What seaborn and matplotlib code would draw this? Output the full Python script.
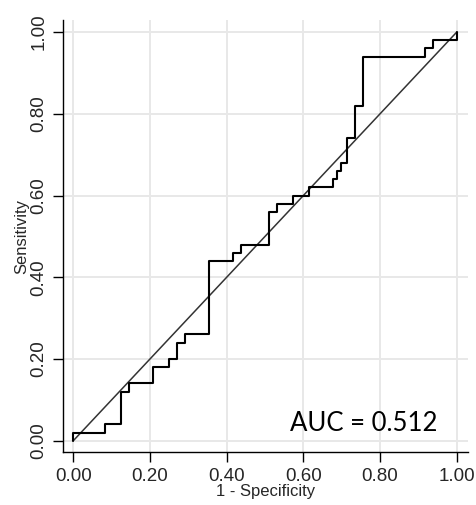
import matplotlib
matplotlib.use("Agg")
import matplotlib.pyplot as plt
import seaborn as sns
import pandas as pd
from matplotlib.ticker import FormatStrFormatter

# ROC curve vertices (1 - Specificity, Sensitivity)
fpr = [0.0, 0.0, 0.083, 0.083, 0.125, 0.125, 0.146, 0.146, 0.208, 0.208,
       0.25, 0.25, 0.271, 0.271, 0.292, 0.292, 0.354, 0.354, 0.417, 0.417,
       0.4375, 0.4375, 0.51, 0.51, 0.531, 0.531, 0.573, 0.573, 0.615, 0.615,
       0.677, 0.677, 0.688, 0.688, 0.698, 0.698, 0.714, 0.714, 0.734, 0.734,
       0.755, 0.755, 0.917, 0.917, 0.938, 0.938, 1.0, 1.0]
tpr = [0.0, 0.02, 0.02, 0.04, 0.04, 0.12, 0.12, 0.14, 0.14, 0.18,
       0.18, 0.20, 0.20, 0.24, 0.24, 0.26, 0.26, 0.44, 0.44, 0.46,
       0.46, 0.48, 0.48, 0.56, 0.56, 0.58, 0.58, 0.60, 0.60, 0.62,
       0.62, 0.64, 0.64, 0.66, 0.66, 0.68, 0.68, 0.74, 0.74, 0.82,
       0.82, 0.94, 0.94, 0.96, 0.96, 0.98, 0.98, 1.0]
ref_x = [0.0, 1.0]
ref_y = [0.0, 1.0]
ticks = [0.0, 0.2, 0.4, 0.6, 0.8, 1.0]
auc_text = "AUC = 0.512"
xlabel = "1 - Specificity"
ylabel = "Sensitivity"

sns.set_theme(style="white")
plt.rcParams['font.family'] = ['Liberation Sans', 'DejaVu Sans']

fig = plt.figure(figsize=(4.77, 5.05), dpi=100)
ax = fig.add_axes([62.7 / 477, (505 - 452.3) / 505, (468 - 62.7) / 477, (452.3 - 20) / 505])

roc = pd.DataFrame({"fpr": fpr, "tpr": tpr})
ref = pd.DataFrame({"x": ref_x, "y": ref_y})

sns.lineplot(data=ref, x="x", y="y", ax=ax, color="#333333", linewidth=1.1,
             sort=False, estimator=None, zorder=3)
sns.lineplot(data=roc, x="fpr", y="tpr", ax=ax, color="black", linewidth=1.5,
             sort=False, estimator=None, zorder=4)

ax.set_xlim(-0.0277, 1.0295)
ax.set_ylim(-0.0284, 1.0297)
ax.set_xticks(ticks)
ax.set_yticks(ticks)
ax.xaxis.set_major_formatter(FormatStrFormatter("%.2f"))
ax.yaxis.set_major_formatter(FormatStrFormatter("%.2f"))
ax.grid(True, color="#e8e8e8", linewidth=1.4)
ax.set_axisbelow(True)

for s in ["top", "right"]:
    ax.spines[s].set_visible(False)
for s in ["left", "bottom"]:
    ax.spines[s].set_color("black")
    ax.spines[s].set_linewidth(1.0)

ax.tick_params(axis="both", which="major", direction="out", length=7, width=1.0,
               color="black", labelsize=13.5, pad=4, left=True, bottom=True)
plt.setp(ax.get_yticklabels(), rotation=90, va="center")

ax.set_xlabel(xlabel, fontsize=12, labelpad=-0.5)
ax.set_ylabel(ylabel, fontsize=12, labelpad=1)

ax.text(0.565, 0.0245, auc_text, fontsize=18.5, family=["Lato", "DejaVu Sans"],
        ha="left", va="baseline", color="black", zorder=5)

fig.savefig("out.png", dpi=100)
